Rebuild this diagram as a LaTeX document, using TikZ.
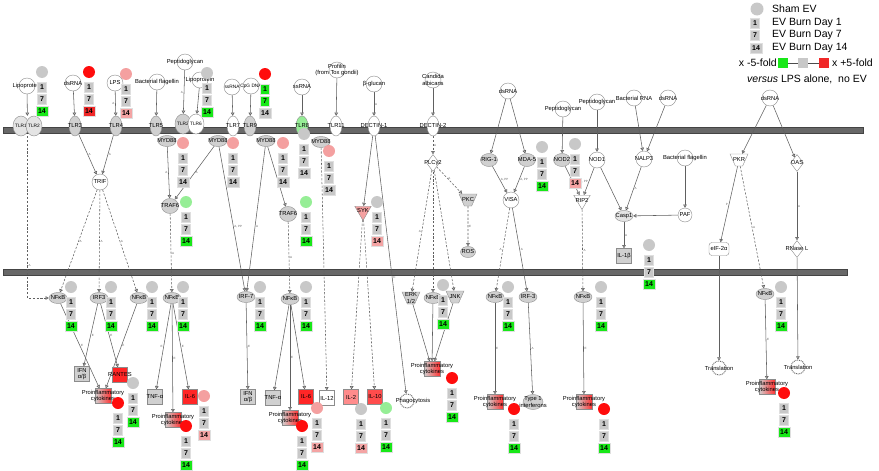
\documentclass[tikz,border=0pt]{standalone}
\usepackage{fontspec}
\setmainfont{Liberation Sans}
\usetikzlibrary{shapes.geometric,arrows.meta}
\definecolor{membc}{HTML}{686868}
\definecolor{membd}{HTML}{444444}
\definecolor{edgec}{HTML}{606060}
\definecolor{boxg}{HTML}{C8C8C8}
\definecolor{boxG}{HTML}{18E818}
\definecolor{boxR}{HTML}{F02828}
\definecolor{boxP}{HTML}{F4A4A4}
\definecolor{cirg}{HTML}{C8C8C8}
\definecolor{cirR}{HTML}{FF0C0C}
\definecolor{cirP}{HTML}{F4A0A0}
\definecolor{cirG}{HTML}{96EE96}
\definecolor{molg}{HTML}{D0D0D0}
\definecolor{molgl}{HTML}{E4E4E4}
\definecolor{nborder}{HTML}{8C8C8C}
\pgfdeclarelayer{bg}
\pgfsetlayers{bg,main}
\newcommand{\fs}{\fontsize{5.8}{6.2}\selectfont}
\newcommand{\fss}{\fontsize{4.8}{5.2}\selectfont}
\tikzset{
 txt/.style={font=\fs,align=center,inner sep=0pt},
 tx/.style={label={[txt]center:#1}},
 txs/.style={label={[txt,font=\fss]center:#1}},
 lig/.style={circle,draw=nborder,fill=white,minimum size=16pt,inner sep=0pt,line width=.4pt},
 rec/.style={ellipse,draw=nborder,fill=molg,minimum width=12pt,minimum height=20pt,inner sep=0pt,line width=.4pt},
 oval/.style={ellipse,draw=nborder,fill=molg,minimum width=18pt,minimum height=11pt,inner sep=0pt,line width=.4pt},
 rnd/.style={circle,draw=nborder,fill=white,minimum size=16pt,inner sep=0pt,line width=.4pt},
 tri/.style={regular polygon,regular polygon sides=3,shape border rotate=180,draw=nborder,minimum size=19pt,inner sep=0pt,line width=.4pt},
 trap/.style={trapezium,trapezium left angle=66,trapezium right angle=66,shape border rotate=180,draw=nborder,fill=molg,minimum width=16pt,minimum height=12pt,inner sep=1pt,line width=.4pt},
 dia/.style={diamond,draw=nborder,fill=white,minimum width=13pt,minimum height=17pt,inner sep=0pt,line width=.4pt},
 sq/.style={rectangle,draw=nborder,fill=molg,minimum width=15pt,minimum height=15pt,inner sep=0pt,line width=.4pt},
 pro/.style={rectangle,draw=nborder,left color=molg,right color=red!80,minimum width=16pt,minimum height=15pt,inner sep=0pt,line width=.4pt},
 gear/.style={circle,draw=edgec,dash pattern=on .9pt off .9pt,line width=.9pt,fill=white,minimum size=14pt,inner sep=0pt},
 ed/.style={draw=edgec,line width=.55pt,-{Triangle[length=3.2pt,width=3.6pt,fill=gray!50]}},
 dsh/.style={ed,dash pattern=on 2.2pt off 1.6pt},
 el/.style={font=\fontsize{3}{3}\selectfont,text=edgec,inner sep=.8pt},
 evc/.style={circle,minimum size=12pt,inner sep=0pt,draw=none},
 evb/.style={rectangle,minimum width=9pt,minimum height=10pt,inner sep=0pt,draw=gray!25,line width=.3pt,font=\bfseries\fontsize{7}{7}\selectfont},
 lgt/.style={anchor=west,font=\fontsize{10.5}{11}\selectfont,inner sep=0pt}
}
\newcommand{\evset}[7]{%
 \node[evc,fill=#4] (#1) at (#2,#3) {};
 \node[evb,fill=#5] (#1-1) at (#2,#3+15) {1};
 \node[evb,fill=#6] (#1-7) at (#2,#3+27) {7};
 \node[evb,fill=#7,minimum width=12pt] (#1-14) at (#2,#3+39) {14};
}
\newcommand{\ph}{{\fs\phantom{I}}}
\begin{document}
\begin{tikzpicture}[x=1pt,y=-1pt]
\useasboundingbox (0,0) rectangle (879,471);
% ---------------- ligands
\node[lig,tx=Lipoprotein] (lipo1) at (27,86) {};
\node[lig,tx=dsRNA] (dsrna1) at (73,83) {};
\node[lig,tx=LPS] (lps) at (115,83) {};
\node[lig,tx=Bacterial flagellin] (bflag) at (157,82) {};
\node[lig,tx=Peptidoglycan] (pept1) at (185,62) {};
\node[lig,tx=Lipoprotein] (lipo2) at (200,80) {};
\node[lig,txs=ssRNA] (ssrna1) at (232,87) {};
\node[lig,txs=CpG DNA] (cpg) at (251,86) {};
\node[lig,tx=ssRNA] (ssrna2) at (302,87) {};
\node[lig,tx={Profilin\\(from Tox gondii)}] (prof) at (337,70) {};
\node[lig,tx=β-glucan] (bglu) at (374,84) {};
\node[lig,tx={Candida\\albicans}] (cand) at (433,80) {};
\node[lig,tx=dsRNA] (dsrna2) at (508,91) {};
\node[lig,tx=Peptidoglycan] (pept2) at (563,109) {};
\node[lig,tx=Peptidoglycan] (pept3) at (597,102) {};
\node[lig,tx=Bacterial RNA] (brna) at (634,98) {};
\node[lig,tx=dsRNA] (dsrna3) at (668,98) {};
\node[lig,tx=dsRNA] (dsrna4) at (770,98) {};
\node[lig,tx=Bacterial flagellin] (bflag2) at (685,158) {};
% ---------------- receptors
\node[rec,fill=molgl,minimum width=16pt,txs=TLR1] (tlr1) at (21,126) {};
\node[rec,fill=molgl,minimum width=16pt,txs=TLR2] (tlr2) at (34,126) {};
\node[minimum width=30pt,minimum height=20pt,inner sep=0pt] (tlr12) at (27.5,126) {};
\node[rec,tx=TLR3] (tlr3) at (75,126) {};
\node[rec,tx=TLR4] (tlr4) at (116,126) {};
\node[rec,tx=TLR5] (tlr5) at (156,126) {};
\node[rec,minimum width=16pt,txs=TLR2] (tlr2b) at (183,124) {};
\node[rec,fill=white,minimum width=16pt,txs=TLR6] (tlr6) at (196,124) {};
\node[rec,fill=white,tx=TLR7] (tlr7) at (233,126) {};
\node[rec,tx=TLR9] (tlr9) at (250,126) {};
\node[rec,fill=cirG,tx=TLR8] (tlr8) at (302,126) {};
\node[rec,fill=white,tx=TLR11] (tlr11) at (336,126) {};
\node[rec,fill=white,tx=DECTIN-1] (dec1) at (374,126) {};
\node[rec,fill=white,tx=DECTIN-2] (dec2) at (433,126) {};
% ---------------- cytoplasm
\node[oval,tx=MYD88] (myd1) at (167,141) {};
\node[oval,tx=MYD88] (myd2) at (218,141) {};
\node[oval,tx=MYD88] (myd3) at (266,141) {};
\node[oval,tx=MYD88] (myd4) at (321,142) {};
\node[rnd,tx=TRIF] (trif) at (100,182) {};
\node[oval,minimum width=17pt,minimum height=15pt,tx=TRAF6] (traf1) at (170,206) {};
\node[oval,minimum width=17pt,minimum height=15pt,tx=TRAF6] (traf2) at (288,214) {};
\node[tri,fill=cirP,tx=SYK] (syk) at (363,211) {};
\node[dia,tx=PLCγ2] (plc) at (433,163) {};
\node[trap,tx=PKC] (pkc) at (468,200) {\ph};
\node[oval,minimum width=15pt,tx=ROS] (ros) at (468,252) {};
\node[oval,minimum width=17pt,minimum height=13pt,tx=RIG-1] (rig) at (489,160) {};
\node[oval,minimum width=17pt,minimum height=13pt,tx=MDA-5] (mda) at (527,160) {};
\node[oval,minimum width=17pt,minimum height=13pt,tx=NOD2] (nod2) at (562,160) {};
\node[rnd,tx=NOD1] (nod1) at (597,160) {};
\node[rnd,tx=NALP3] (nalp3) at (644,159) {};
\node[rnd,tx=VISA] (visa) at (511,200) {};
\node[tri,fill=white,tx=RIP2] (rip2) at (582,200) {};
\node[oval,fill=molgl,tx=Casp1] (casp1) at (624,216) {};
\node[rnd,minimum size=14pt,tx=PAF] (paf) at (685,215) {};
\node[sq,tx=IL-1β] (il1b) at (624,256) {};
\node[trap,fill=white,tx=PKR] (pkr) at (739,160) {\ph};
\node[dia,tx=OAS] (oas) at (797,163) {};
\node[rectangle,rounded corners=3pt,draw=nborder,fill=white,minimum width=20pt,minimum height=13pt,inner sep=0pt,line width=.4pt,tx=eIF-2α] (eif) at (719,249) {};
\node[dia,tx=RNase L] (rnasel) at (797,249) {};
% ---------------- nucleus edge
\node[oval,tx=NFκB] (nfkb1) at (58,298) {};
\node[oval,tx=IRF3] (irf3a) at (99,298) {};
\node[oval,tx=NFκB] (nfkb2) at (139,298) {};
\node[oval,tx=NFκB] (nfkb3) at (172,298) {};
\node[oval,tx=IRF-7] (irf7) at (246,297) {};
\node[oval,tx=NFκB] (nfkb4) at (290,299) {};
\node[trap,tx={ERK\\1/2}] (erk) at (411,298) {\ph};
\node[oval,tx=NFκB] (nfkb5) at (433,298) {};
\node[trap,tx=JNK] (jnk) at (455,297) {\ph};
\node[oval,tx=NFκB] (nfkb6) at (495,297) {};
\node[oval,tx=IRF-3] (irf3b) at (528,297) {};
\node[oval,tx=NFκB] (nfkb7) at (583,297) {};
\node[oval,tx=NFκB] (nfkb8) at (765,294) {};
% ---------------- outputs
\node[sq,tx={IFN\\α/β}] (ifn1) at (82,374) {};
\node[sq,fill=red!85,tx=RANTES] (rantes) at (120,375) {};
\node[pro,tx={Proinflammatory\\cytokines}] (pro1) at (103,396) {};
\node[sq,tx=TNF-α] (tnf1) at (155,397) {};
\node[sq,fill=red!85,tx=IL-6] (il6a) at (190,397) {};
\node[pro,tx={Proinflammatory\\cytokines}] (pro2) at (173,420) {};
\node[sq,tx={IFN\\α/β}] (ifn2) at (248,397) {};
\node[sq,tx=TNF-α] (tnf2) at (273,398) {};
\node[sq,fill=red!85,tx=IL-6] (il6b) at (306,397) {};
\node[sq,fill=white,tx=IL-12] (il12) at (327,398) {};
\node[pro,tx={Proinflammatory\\cytokines}] (pro3) at (290,418) {};
\node[sq,fill=red!45,tx=IL-2] (il2) at (351,397) {};
\node[sq,fill=red!70,tx=IL-10] (il10) at (375,397) {};
\node[gear] (phago) at (407,401) {};
\node[txt] (phagot) at (413,401) {Phagocytosis};
\node[pro,tx={Proinflammatory\\cytokines}] (pro4) at (432,369) {};
\node[pro,tx={Proinflammatory\\cytokines}] (pro5) at (495,402) {};
\node[ellipse,draw=nborder,fill=molg,minimum width=20pt,minimum height=15pt,inner sep=0pt,line width=.4pt,tx={Type 1\\interferons}] (type1) at (533,402) {};
\node[pro,tx={Proinflammatory\\cytokines}] (pro6) at (584,402) {};
\node[gear,tx=Translation] (trans1) at (719,368) {};
\node[gear,tx=Translation] (trans2) at (798,367) {};
\node[pro,tx={Proinflammatory\\cytokines}] (pro7) at (767,387) {};
% ---------------- membranes and connectors (behind)
\begin{pgfonlayer}{bg}
\filldraw[fill=membc,draw=membd,line width=.4pt] (3,127.2) rectangle (863,133.2);
\filldraw[fill=membc,draw=membd,line width=.4pt] (3,269.4) rectangle (847,275.2);
\draw[ed] (lipo1) -- (tlr12);
\draw[ed] (dsrna1) -- (tlr3);
\draw[ed] (lps) -- node[el,left]{A} (tlr4);
\draw[ed] (bflag) -- (tlr5);
\draw[ed] (pept1) -- node[el,left]{A} (tlr2b);
\draw[ed] (lipo2) -- (tlr6);
\draw[ed] (ssrna1) -- (tlr7);
\draw[ed] (cpg) -- (tlr9);
\draw[ed] (ssrna2) -- (tlr8);
\draw[ed] (prof) -- (tlr11);
\draw[ed] (bglu) -- node[el,right]{A} (dec1);
\draw[ed] (cand) -- (dec2);
\draw[ed] (dsrna2) -- (rig);
\draw[ed] (dsrna2) -- (mda);
\draw[ed] (pept2) -- (nod2);
\draw[ed] (pept3) -- (nod1);
\draw[ed] (brna) -- (nalp3);
\draw[ed] (dsrna3) -- (nalp3);
\draw[ed] (dsrna4) -- (pkr);
\draw[ed] (dsrna4) -- (oas);
\draw[ed] (bflag2) -- (paf);
\draw[ed] (paf) -- (casp1);
\draw[ed] (nalp3) -- node[el,right]{A} (casp1);
\draw[ed] (nod1) -- (casp1);
\draw[ed] (nod1) -- node[el,left]{A, PP} (rip2);
\draw[ed] (nod2) -- (rip2);
\draw[ed] (rig) -- node[el,right]{A, PP} (visa);
\draw[ed] (mda) -- node[el,right]{A, PP} (visa);
\draw[ed] (casp1) -- node[el,right]{A} (il1b);
\draw[dsh] (visa) -- node[el,left]{A} (nfkb6);
\draw[ed] (visa) -- node[el,right]{A} (irf3b);
\draw[dsh] (rip2) -- node[el,right]{A} (nfkb7);
\draw[ed] (pkr) -- node[el,left]{P} (eif);
\draw[dsh] (pkr) -- node[el,right]{A} (nfkb8);
\draw[ed] (oas) -- node[el,right]{A} (rnasel);
\draw[ed] (eif) -- (trans1);
\draw[ed] (rnasel) -- (trans2);
\draw[ed] (nfkb8) -- node[el,right]{E} (pro7);
\draw[ed] (nfkb7) -- node[el,right]{E} (pro6);
\draw[ed] (nfkb6) -- node[el,right]{E} (pro5);
\draw[ed] (irf3b) -- node[el,right]{A} (type1);
\draw[dsh] (dec2) -- node[el,right]{A} (plc);
\draw[dsh] (plc) -- node[el,above]{A} (pkc);
\draw[dsh] (pkc) -- node[el,right]{E} (ros);
\draw[dsh] (plc) -- node[el,left]{A} (erk);
\draw[dsh] (plc) -- (nfkb5);
\draw[dsh] (plc) -- (jnk);
\draw[ed] (dec1) -- (syk);
\draw[dsh] (syk) -- (il2);
\draw[dsh] (syk) -- (il10);
\draw[ed] (dec1) -- node[el,right,pos=.55]{C} (phago);
\draw[ed] (erk) -- (pro4);
\draw[ed] (nfkb5) -- (pro4);
\draw[ed] (jnk) -- (pro4);
\draw[ed] (tlr3) -- node[el,right]{A} (trif);
\draw[ed] (tlr4) -- node[el,right]{A} (trif);
\draw[dsh] (trif) -- node[el,right]{A} (nfkb1);
\draw[dsh] (trif) -- node[el,right]{A} (irf3a);
\draw[dsh] (trif) -- node[el,right]{A} (nfkb2);
\draw[dsh] (tlr12) |- node[el,pos=.4,right]{A} (nfkb1);
\draw[ed] (myd1) -- node[el,left]{A} (traf1);
\draw[ed] (myd2) -- node[el,right]{A} (traf1);
\draw[dsh] (traf1) -- node[el,right]{A} (nfkb3);
\draw[ed] (myd2) -- node[el,right,pos=.55]{A, PP} (irf7);
\draw[ed] (myd3) -- node[el,right,pos=.55]{A} (irf7);
\draw[ed] (myd3) -- (traf2);
\draw[dsh] (traf2) -- node[el,right]{A} (nfkb4);
\draw[dsh] (myd4) -- (il12);
\draw[ed] (nfkb1) -- node[el,right]{E} (pro1);
\draw[ed] (irf3a) -- node[el,right]{E} (ifn1);
\draw[ed] (irf3a) -- node[el,right]{E} (rantes);
\draw[ed] (nfkb2) -- node[el,right]{E} (pro1);
\draw[ed] (nfkb3) -- node[el,left]{E} (tnf1);
\draw[ed] (nfkb3) -- node[el,right]{E} (pro2);
\draw[ed] (nfkb3) -- node[el,right]{E} (il6a);
\draw[ed] (irf7) -- node[el,right]{E} (ifn2);
\draw[ed] (nfkb4) -- (tnf2);
\draw[ed] (nfkb4) -- node[el,right]{E} (pro3);
\draw[ed] (nfkb4) -- (il6b);
\end{pgfonlayer}
% ---------------- data markers
\evset{e1}{42}{72}{cirg}{boxg}{boxg}{boxG}
\evset{e2}{89}{72}{cirR}{boxg}{boxg}{boxR}
\evset{e3}{126}{74}{cirP}{boxg}{boxg}{boxP}
\evset{e4}{207}{73}{cirg}{boxg}{boxg}{boxG}
\evset{e5}{265}{74}{cirR}{boxG}{boxG}{boxg}
\evset{e6}{183}{143}{cirP}{boxg}{boxg}{boxg}
\evset{e7}{233}{143}{cirP}{boxg}{boxg}{boxg}
\evset{e8}{283}{143}{cirP}{boxg}{boxg}{boxg}
\evset{e9}{304}{134}{cirg}{boxg}{boxg}{boxg}
\evset{e10}{329}{151}{cirP}{boxg}{boxg}{boxg}
\evset{e11}{186}{202}{cirG}{boxg}{boxg}{boxG}
\evset{e12}{306}{202}{cirG}{boxg}{boxg}{boxG}
\evset{e13}{377}{202}{cirg}{boxg}{boxg}{boxP}
\evset{e14}{542}{147}{cirg}{boxg}{boxg}{boxG}
\evset{e15}{575}{144}{cirg}{boxg}{boxg}{boxP}
\evset{e16}{649}{245}{cirg}{boxg}{boxg}{boxG}
\evset{e17}{71}{287}{cirg}{boxg}{boxg}{boxG}
\evset{e18}{111}{287}{cirg}{boxg}{boxg}{boxG}
\evset{e19}{152}{287}{cirg}{boxg}{boxg}{boxG}
\evset{e20}{183}{287}{cirg}{boxg}{boxg}{boxG}
\evset{e21}{260}{287}{cirg}{boxg}{boxg}{boxG}
\evset{e22}{306}{287}{cirg}{boxg}{boxg}{boxG}
\evset{e23}{443}{285}{cirg}{boxg}{boxg}{boxG}
\evset{e24}{508}{287}{cirg}{boxg}{boxg}{boxG}
\evset{e25}{601}{287}{cirg}{boxg}{boxg}{boxG}
\evset{e26}{781}{287}{cirg}{boxg}{boxg}{boxG}
\evset{e27}{133}{383}{cirg}{boxg}{boxg}{boxG}
\evset{e28}{118}{403}{cirR}{boxg}{boxg}{boxG}
\evset{e29}{204}{396}{cirP}{boxg}{boxg}{boxP}
\evset{e30}{186}{426}{cirR}{boxg}{boxg}{boxG}
\evset{e31}{317}{408}{cirP}{boxg}{boxg}{boxP}
\evset{e32}{302}{426}{cirR}{boxg}{boxg}{boxG}
\evset{e33}{361}{409}{cirg}{boxg}{boxg}{boxP}
\evset{e34}{386}{408}{cirG}{boxg}{boxg}{boxG}
\evset{e35}{452}{378}{cirR}{boxg}{boxg}{boxG}
\evset{e36}{514}{409}{cirR}{boxg}{boxg}{boxG}
\evset{e37}{604}{409}{cirR}{boxg}{boxg}{boxG}
\evset{e38}{784}{393}{cirR}{boxg}{boxg}{boxG}
% ---------------- legend
\node[evc,fill=cirg,minimum size=13pt] (lgc) at (757,9) {};
\node[lgt] (lgt0) at (772,9) {Sham EV};
\node[evb,fill=boxg] (lgb1) at (755,23) {1};
\node[lgt] (lgt1) at (772,23) {EV Burn Day 1};
\node[evb,fill=boxg] (lgb7) at (755,35) {7};
\node[lgt] (lgt7) at (772,35) {EV Burn Day 7};
\node[evb,fill=boxg,minimum width=12pt] (lgb14) at (756,48) {14};
\node[lgt] (lgt14) at (772,48) {EV Burn Day 14};
\node[anchor=east,font=\fontsize{10.5}{11}\selectfont,inner sep=0pt] (lgm) at (777,63) {x -5-fold};
\node[rectangle,fill=boxG,minimum size=10pt,inner sep=0pt] (lgG) at (782.5,63) {};
\node[rectangle,fill=boxg,minimum size=10pt,inner sep=0pt] (lgg) at (803,63) {};
\node[rectangle,fill=boxR,minimum size=10pt,inner sep=0pt] (lgR) at (824,63) {};
\node[lgt] (lgp) at (832,63) {x +5-fold};
\draw[line width=1pt,black!70] (lgG) -- (lgg);
\draw[line width=1pt,black!70] (lgg) -- (lgR);
\node[font=\fontsize{10.5}{11}\selectfont,inner sep=0pt] (lgv) at (807,79) {\textit{versus} LPS alone,\ \ no EV};
\end{tikzpicture}
\end{document}
